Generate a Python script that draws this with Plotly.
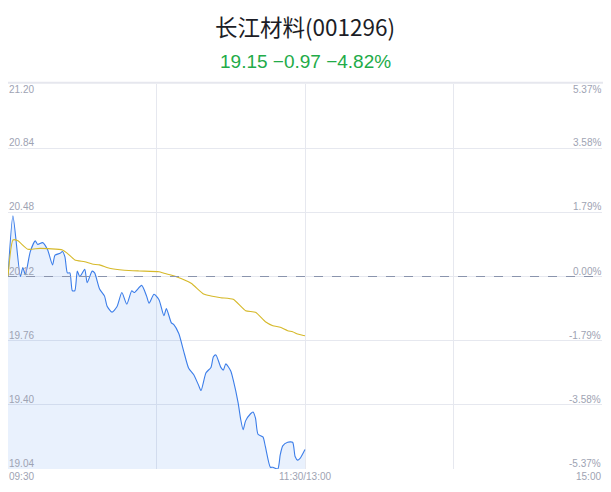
import plotly.graph_objects as go

# ---- data ----
title_text = "长江材料(001296)"
subtitle_text = "19.15 −0.97 −4.82%"
prev_close = 20.12

price_min = [0, 2, 5, 6, 7, 9, 11, 12, 14, 16, 18, 19, 21, 22, 23, 24, 25, 26, 27, 28,
             29, 31, 32, 34, 35, 37, 39, 40, 42, 44, 46, 48, 50, 51, 54, 56, 57, 59, 61, 63,
             64, 66, 67, 69, 71, 73, 75, 77, 78, 80, 82, 83, 84, 86, 87, 88, 90, 91, 93, 94,
             95, 96, 98, 99, 100, 101, 103, 104, 106, 107, 109, 110, 111, 113, 115, 116, 117, 118, 120]
price_val = [20.12, 20.46, 20.12, 20.17, 20.13, 20.26, 20.32, 20.30, 20.31, 20.27, 20.185, 20.24, 20.25, 20.26, 20.23, 20.14, 20.14, 20.04, 20.04, 20.15,
             20.12, 20.16, 20.085, 20.15, 20.14, 20.05, 20.01, 19.955, 19.92, 19.95, 20.03, 19.965, 20.04, 20.03, 20.07, 20.01, 19.97, 20.02, 19.99, 19.90,
             19.94, 19.86, 19.85, 19.80, 19.70, 19.605, 19.57, 19.51, 19.48, 19.58, 19.61, 19.67, 19.68, 19.61, 19.595, 19.63, 19.59, 19.54, 19.41, 19.32,
             19.26, 19.31, 19.35, 19.36, 19.325, 19.235, 19.22, 19.165, 19.05, 19.05, 19.04, 19.12, 19.17, 19.19, 19.19, 19.11, 19.09, 19.10, 19.15]

avg_min = [0, 2, 4, 8, 13, 22, 24, 27, 31, 34, 37, 41, 47, 53, 61, 63, 68, 74, 79, 82,
           86, 91, 96, 100, 104, 107, 110, 113, 115, 117, 119, 120]
avg_val = [20.12, 20.325, 20.32, 20.273, 20.278, 20.269, 20.25, 20.213, 20.203, 20.19, 20.185, 20.166, 20.155, 20.151, 20.147, 20.138,
           20.119, 20.082, 20.022, 20.011, 20.001, 19.992, 19.928, 19.919, 19.866, 19.844, 19.835, 19.816, 19.81, 19.797, 19.79, 19.788]

price_ticks = [21.20, 20.84, 20.48, 20.12, 19.76, 19.40, 19.04]
price_labels = ["21.20", "20.84", "20.48", "20.12", "19.76", "19.40", "19.04"]
pct_labels = ["5.37%", "3.58%", "1.79%", "0.00%", "-1.79%", "-3.58%", "-5.37%"]
time_ticks = [0, 120, 240]
time_labels = ["09:30", "11:30/13:00", "15:00"]

# ---- layout geometry (figure pixels; page adds 8px body margin) ----
W, H = 603, 484
ML, MR, MT, MB = 0, 9, 76, 23
plot_h = H - MT - MB


def paper_y(fig_px_y):
    return (H - MB - fig_px_y) / plot_h


# ---- figure ----
fig = go.Figure()
fig.add_trace(go.Scatter(x=price_min, y=price_val, mode="lines",
                         line=dict(color="#3b7de9", width=1.1, shape="spline", smoothing=0.6),
                         fill="tozeroy", fillcolor="rgba(59,125,237,0.11)", hoverinfo="skip"))
fig.add_trace(go.Scatter(x=avg_min, y=avg_val, mode="lines",
                         line=dict(color="#d6b92a", width=1.1, shape="spline", smoothing=0.5),
                         hoverinfo="skip"))

lab_font = dict(family="Liberation Sans, Arial, sans-serif", size=10, color="#9ea3b3")
ann = []
for i, (p, lp, lr) in enumerate(zip(price_ticks, price_labels, pct_labels)):
    ya = "top" if i == 0 else "bottom"
    ys = 2 if i == 0 else -2
    ann.append(dict(x=0, xref="paper", y=p, yref="y", text=lp, showarrow=False,
                    xanchor="left", yanchor=ya, font=lab_font, xshift=-1, yshift=ys))
    ann.append(dict(x=1, xref="paper", y=p, yref="y", text=lr, showarrow=False,
                    xanchor="right", yanchor=ya, font=lab_font, xshift=1, yshift=ys))
for t, lt in zip(time_ticks, time_labels):
    xa = "left" if t == 0 else ("right" if t == 240 else "center")
    ann.append(dict(x=t, xref="x", y=0, yref="paper", text=lt, showarrow=False,
                    xanchor=xa, yanchor="top", font=lab_font, xshift=-1 if t == 0 else 1 if t == 240 else 0))
ann.append(dict(x=0.5, xref="paper", y=paper_y(18), yref="paper", yanchor="middle",
                text=title_text, showarrow=False,
                font=dict(family="Noto Sans CJK SC, sans-serif", size=22.5, color="#1c1d26")))
ann.append(dict(x=0.5, xref="paper", y=paper_y(54), yref="paper", yanchor="middle",
                text=subtitle_text, showarrow=False,
                font=dict(family="Liberation Sans, Arial, sans-serif", size=19, color="#22ab48")))

fig.update_layout(
    width=W, height=H,
    margin=dict(l=ML, r=MR, t=MT, b=MB),
    paper_bgcolor="white", plot_bgcolor="white",
    showlegend=False,
    annotations=ann,
    xaxis=dict(range=[0, 240], tickvals=[0, 60, 120, 180], showticklabels=False,
               showgrid=True, gridcolor="#e6e8ef", gridwidth=1, zeroline=False, showline=False,
               fixedrange=True),
    yaxis=dict(range=[19.04, 21.20], tickvals=price_ticks, showticklabels=False,
               showgrid=True, gridcolor="#e6e8ef", gridwidth=1, zeroline=False, showline=False,
               fixedrange=True),
    shapes=[
        dict(type="line", xref="paper", yref="y", x0=0, x1=1, y0=prev_close, y1=prev_close,
             line=dict(color="#8a94ad", width=1, dash="dash")),
        dict(type="line", xref="paper", yref="paper", x0=-0.002, x1=1.02, y0=1.003, y1=1.003,
             line=dict(color="#e6e7ee", width=2)),
    ],
)

fig.write_html("out.html")
